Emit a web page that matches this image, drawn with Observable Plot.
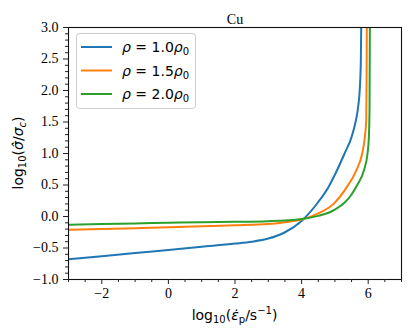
<!DOCTYPE html>
<html>
<head>
<meta charset="utf-8">
<script src="https://cdn.jsdelivr.net/npm/d3@7"></script>
<script src="https://cdn.jsdelivr.net/npm/@observablehq/plot@0.6"></script>
<style>
  html, body { margin: 0; padding: 0; background: white; }
  #chart svg .lbl { font-size: 14px; font-family: 'DejaVu Sans', sans-serif; text-anchor: middle; }
  #chart svg .lbl tspan.s { font-size: 10px; }
  #chart svg .leg { font-size: 14px; font-family: 'DejaVu Sans', sans-serif; text-anchor: start; }
  #chart svg .leg tspan.s { font-size: 10px; }
</style>
</head>
<body>
<div id="chart"></div>
<script>
// ---- data ----
const seriesNames = ["1.0", "1.5", "2.0"];
const seriesColors = ["#1f77b4", "#ff7f0e", "#2ca02c"];

const blueX = [-3, -2, -1, 0, 1, 2, 2.5, 3, 3.5, 4, 4.5, 4.81, 5.06, 5.29, 5.5, 5.62, 5.70, 5.75, 5.78, 5.79];
const blueY = [-0.68, -0.63, -0.58, -0.53, -0.48, -0.43, -0.40, -0.35, -0.25, -0.07, 0.23, 0.47, 0.73, 1.0, 1.26, 1.5, 1.75, 2.05, 2.5, 3.0];

const orangeX = [-3, -2, -1, 0, 1, 2, 3, 3.5, 4, 4.5, 4.96, 5.36, 5.64, 5.82, 5.9, 5.94, 5.952, 5.958];
const orangeY = [-0.21, -0.20, -0.185, -0.17, -0.155, -0.14, -0.12, -0.09, -0.05, 0.05, 0.2, 0.47, 0.73, 1.0, 1.26, 1.52, 2.2, 3.0];

const greenX = [-3, -2, -1, 0, 1, 2, 3, 4, 4.5, 4.81, 5.0, 5.31, 5.5, 5.67, 5.87, 5.98, 6.02, 6.04, 6.05];
const greenY = [-0.13, -0.12, -0.11, -0.10, -0.09, -0.085, -0.075, -0.04, 0.01, 0.06, 0.11, 0.23, 0.35, 0.50, 0.73, 1.0, 1.26, 1.7, 3.0];

const xMajorTicks = [-2, 0, 2, 4, 6];
const xMinorTicks = [-3, -2.5, -1.5, -1, -0.5, 0.5, 1, 1.5, 2.5, 3, 3.5, 4.5, 5, 5.5, 6.5, 7];
const yMajorTicks = [-1.0, -0.5, 0.0, 0.5, 1.0, 1.5, 2.0, 2.5, 3.0];
const yMinorTicks = [-0.9, -0.8, -0.7, -0.6, -0.4, -0.3, -0.2, -0.1, 0.1, 0.2, 0.3, 0.4, 0.6, 0.7, 0.8, 0.9,
                     1.1, 1.2, 1.3, 1.4, 1.6, 1.7, 1.8, 1.9, 2.1, 2.2, 2.3, 2.4, 2.6, 2.7, 2.8, 2.9];

const titleText = "Cu";

// ---- build table ----
const allX = [blueX, orangeX, greenX];
const allY = [blueY, orangeY, greenY];
const rows = [];
seriesNames.forEach((s, i) => {
  allX[i].forEach((x, j) => rows.push({series: s, x, y: allY[i][j]}));
});

const minus = v => String(v).replace("-", "\u2212");
const fmtX = d => minus(d3.format("d")(d));
const fmtY = d => minus(d3.format(".1f")(d));

const W = 415, H = 335;
const mL = 68, mR = 14, mT = 27, mB = 56;

const plot = Plot.plot({
  width: W, height: H,
  marginLeft: mL, marginRight: mR, marginTop: mT, marginBottom: mB,
  x: {domain: [-3, 7]},
  y: {domain: [-1, 3]},
  color: {domain: seriesNames, range: seriesColors},
  style: {color: "black", background: "white"},
  marks: [
    Plot.line(rows, {x: "x", y: "y", z: "series", stroke: "series", strokeWidth: 2, curve: "monotone-x", clip: true}),
    Plot.frame({stroke: "#111", strokeWidth: 1.1}),
    Plot.axisX(xMinorTicks, {tickSize: 3, text: null, label: null, stroke: "#222"}),
    Plot.axisX(xMajorTicks, {tickSize: 5, tickPadding: 4, tickFormat: fmtX, label: null, stroke: "#222", fontSize: 14}),
    Plot.axisY(yMinorTicks, {tickSize: 3, text: null, label: null, stroke: "#222"}),
    Plot.axisY(yMajorTicks, {tickSize: 5, tickPadding: 5, tickFormat: fmtY, label: null, stroke: "#222", fontSize: 14}),
    Plot.text([titleText], {text: d => d, frameAnchor: "top", dy: -13, fill: "black", fontSize: 14})
  ]
});

document.getElementById("chart").appendChild(plot);

const svg = d3.select(plot);
svg.selectAll("text")
  .style("font-family", "'Liberation Serif', 'DejaVu Serif', serif");

// ---- labels and legend (SVG text with sub/superscripts) ----
const cx = (mL + (W - mR)) / 2, cy = (mT + (H - mB)) / 2;

// x label: log10(ε̇p/s^-1)
const xl = svg.append("text").attr("class", "lbl")
  .attr("x", cx).attr("y", 320).attr("fill", "black");
xl.append("tspan").text("log");
xl.append("tspan").attr("class", "s").attr("dy", 3).text("10");
xl.append("tspan").attr("dy", -3).text("(");
xl.append("tspan").attr("font-style", "italic").text("\u03B5\u0307");
xl.append("tspan").attr("class", "s").attr("dy", 3).text("p");
xl.append("tspan").attr("dy", -3).text("/s");
xl.append("tspan").attr("class", "s").attr("dy", -6).text("\u22121");
xl.append("tspan").attr("dy", 6).text(")");

// y label: log10(σ̂/σc)
const yl = svg.append("text").attr("class", "lbl")
  .attr("transform", `translate(23,${cy}) rotate(-90)`).attr("fill", "black");
yl.append("tspan").text("log");
yl.append("tspan").attr("class", "s").attr("dy", 3).text("10");
yl.append("tspan").attr("dy", -3).text("(");
yl.append("tspan").attr("font-style", "italic").text("\u03C3\u0302");
yl.append("tspan").text("/");
yl.append("tspan").attr("font-style", "italic").text("\u03C3");
yl.append("tspan").attr("class", "s").attr("dy", 3).attr("font-style", "italic").text("c");
yl.append("tspan").attr("dy", -3).text(")");

// legend
const lg = svg.append("g");
lg.append("rect")
  .attr("x", 76.5).attr("y", 33.5).attr("width", 119).attr("height", 75)
  .attr("rx", 3).attr("fill", "white").attr("fill-opacity", 0.8)
  .attr("stroke", "#cccccc").attr("stroke-width", 1);
seriesNames.forEach((s, i) => {
  const yy = 47 + i * 23.5;
  lg.append("line").attr("x1", 81).attr("x2", 112).attr("y1", yy).attr("y2", yy)
    .attr("stroke", seriesColors[i]).attr("stroke-width", 2);
  const t = lg.append("text").attr("class", "leg").attr("x", 122).attr("y", yy + 5).attr("fill", "black");
  t.append("tspan").attr("font-style", "italic").text("\u03C1");
  t.append("tspan").text(" = " + s);
  t.append("tspan").attr("font-style", "italic").text("\u03C1");
  t.append("tspan").attr("class", "s").attr("dy", 3).text("0");
});
</script>
</body>
</html>
